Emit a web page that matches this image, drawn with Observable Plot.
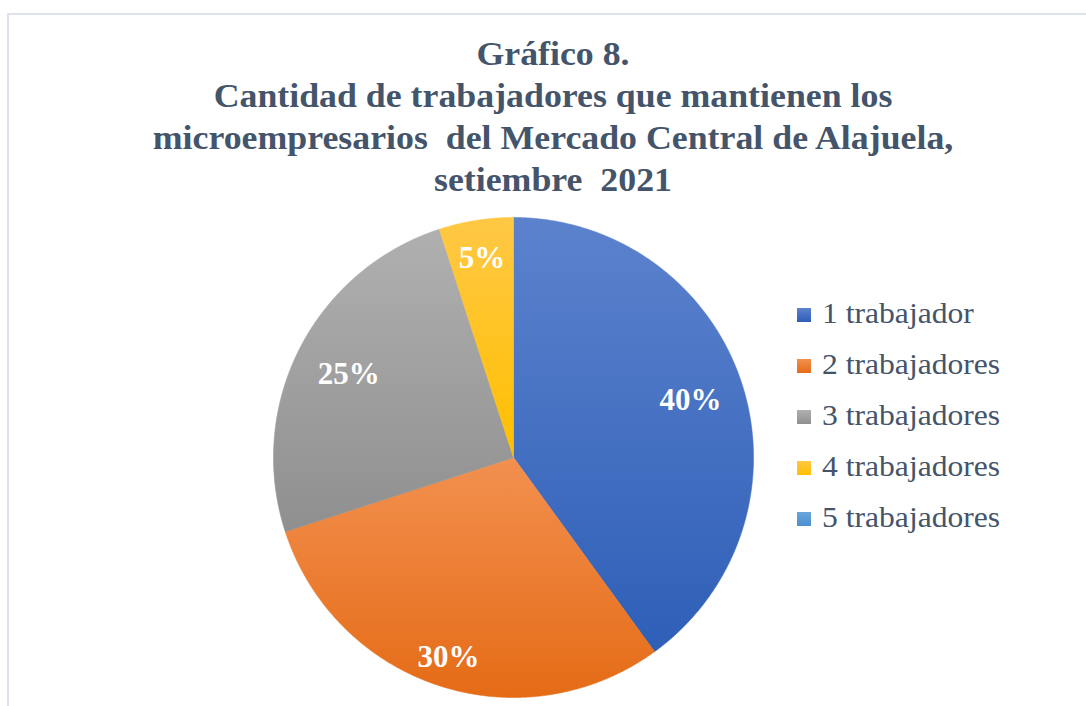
<!DOCTYPE html>
<html>
<head>
<meta charset="utf-8">
<script src="https://cdn.jsdelivr.net/npm/d3@7"></script>
<script src="https://cdn.jsdelivr.net/npm/@observablehq/plot@0.6"></script>
<style>
  html, body { margin: 0; padding: 0; background: #fff; }
  #wrap { position: relative; width: 1086px; height: 706px; overflow: hidden; background: #fff; }
  #frame { position: absolute; left: 7px; top: 13px; width: 1200px; height: 800px; border: 2px solid #DEE2EA; box-sizing: border-box; }
  #chart { position: absolute; left: 0; top: 0; }
  #title { position: absolute; left: 0; top: 33px; width: 1106px; text-align: center;
           font-family: "Liberation Serif", "Times New Roman", serif; font-weight: bold;
           font-size: 33px; line-height: 42px; color: #44546A; white-space: pre;
           transform: scaleX(1.085); transform-origin: 553px 0; }
  .lg { position: absolute; left: 797px; height: 40px; }
  .sw { position: absolute; left: 0; width: 14px; height: 14px; }
  .lt { position: absolute; left: 25px; font-family: "Liberation Serif", "Times New Roman", serif;
        font-size: 29px; color: #44546A; white-space: pre; transform: scaleX(1.09); transform-origin: 0 0; line-height: 32px; }
</style>
</head>
<body>
<div id="wrap">
  <div id="frame"></div>
  <div id="chart"></div>
  <div id="title"></div>
  <div id="legend"></div>
</div>
<script>
// ---- data ----
const titleLines = [
  "Gráfico 8.",
  "Cantidad de trabajadores que mantienen los",
  "microempresarios  del Mercado Central de Alajuela,",
  "setiembre  2021"
];
const categories = ["1 trabajador", "2 trabajadores", "3 trabajadores", "4 trabajadores", "5 trabajadores"];
const percentages = [40, 30, 25, 5, 0];
const valueLabels = ["40%", "30%", "25%", "5%", ""];
const colorTop = ["#5C82CD", "#F2904F", "#B0B0B0", "#FFC845", "#6AA5DA"];
const colorBottom = ["#2E5FB7", "#E56B16", "#8F8F8F", "#FFBF00", "#4A8FD0"];

// ---- layout ----
const W = 1086, H = 706;
const cx = 513, cy = 457, R = 240;
const labelRadius = [0.775, 0.875, 0.77, 0.84, 0.8];

document.getElementById("title").textContent = titleLines.join("\n");

// pie geometry through d3.pie
const arcs = d3.pie().sort(null).value(d => d.value)(
  categories.map((c, i) => ({cat: c, value: percentages[i], label: valueLabels[i], i}))
);

const polys = [];
arcs.forEach(a => {
  if (a.endAngle - a.startAngle <= 0) return;
  const cat = a.data.cat;
  polys.push({cat, x: 0, y: 0});
  const n = Math.max(2, Math.ceil((a.endAngle - a.startAngle) / 0.004));
  for (let k = 0; k <= n; k++) {
    const t = a.startAngle + (a.endAngle - a.startAngle) * k / n;
    polys.push({cat, x: Math.sin(t), y: Math.cos(t)});
  }
  polys.push({cat, x: 0, y: 0});
});

const labelPts = arcs.filter(a => a.data.value > 0).map(a => {
  const m = (a.startAngle + a.endAngle) / 2;
  const r = labelRadius[a.data.i];
  return {label: a.data.label, x: r * Math.sin(m), y: r * Math.cos(m)};
});

const plot = Plot.plot({
  width: W,
  height: H,
  margin: 0,
  x: {domain: [-cx / R, (W - cx) / R], range: [0, W], axis: null},
  y: {domain: [-(H - cy) / R, cy / R], range: [H, 0], axis: null},
  color: {domain: categories, range: categories.map((c, i) => `url(#grad${i})`)},
  style: {background: "transparent"},
  marks: [
    Plot.line(polys, {x: "x", y: "y", z: "cat", fill: "cat", stroke: "cat", strokeWidth: 0.6, curve: "linear"}),
    Plot.text(labelPts, {x: "x", y: "y", text: "label", fill: "white", fontSize: 31, fontWeight: "bold",
      fontFamily: "Liberation Serif, Times New Roman, serif", textAnchor: "middle", lineAnchor: "middle"})
  ]
});

const svg = d3.select(plot);
const defs = svg.insert("defs", ":first-child");
categories.forEach((c, i) => {
  const g = defs.append("linearGradient").attr("id", `grad${i}`)
    .attr("x1", 0).attr("y1", 0).attr("x2", 0).attr("y2", 1);
  g.append("stop").attr("offset", "0%").attr("stop-color", colorTop[i]);
  g.append("stop").attr("offset", "100%").attr("stop-color", colorBottom[i]);
});
document.getElementById("chart").appendChild(plot);

// legend
const legend = document.getElementById("legend");
const rowCenters = [315, 366, 417, 468, 519];
categories.forEach((c, i) => {
  const row = document.createElement("div");
  row.className = "lg";
  row.style.top = (rowCenters[i] - 20) + "px";
  const sw = document.createElement("div");
  sw.className = "sw";
  sw.style.top = "13px";
  sw.style.background = `linear-gradient(${colorTop[i]}, ${colorBottom[i]})`;
  const t = document.createElement("div");
  t.className = "lt";
  t.style.top = "2px";
  t.textContent = c;
  row.appendChild(sw);
  row.appendChild(t);
  legend.appendChild(row);
});
</script>
</body>
</html>
